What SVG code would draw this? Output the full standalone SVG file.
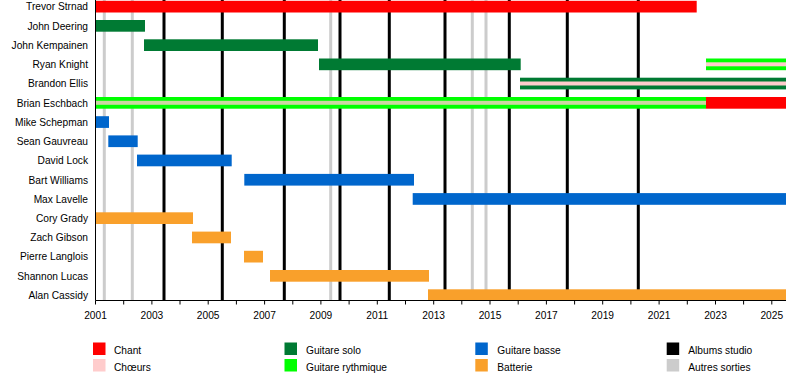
<svg xmlns="http://www.w3.org/2000/svg" width="800" height="380" viewBox="0 0 800 380">
<style>
text{font-family:"Liberation Sans",Arial,sans-serif;font-size:10.2px;fill:#000}
.name{text-anchor:end}
.yr{text-anchor:middle}
.red{fill:#FF0000}.pink{fill:#FFCCCC}.dg{fill:#007A33}.lg{fill:#00FF00}.blue{fill:#0066CC}.org{fill:#F9A02B}.blk{fill:#000}.gry{fill:#CCCCCC}
.alb{stroke:#000;stroke-width:3}
.oth{stroke:#CCCCCC;stroke-width:3}
</style>
<rect width="800" height="380" fill="#fff"/>
<g id="releases">
<g class="oth">
<line x1="104.3" y1="0" x2="104.3" y2="300"/>
<line x1="132.3" y1="0" x2="132.3" y2="300"/>
<line x1="330.7" y1="0" x2="330.7" y2="300"/>
<line x1="472.3" y1="0" x2="472.3" y2="300"/>
<line x1="486" y1="0" x2="486" y2="300"/>
</g>
<g class="alb">
<line x1="164" y1="0" x2="164" y2="300"/>
<line x1="222.3" y1="0" x2="222.3" y2="300"/>
<line x1="284.3" y1="0" x2="284.3" y2="300"/>
<line x1="340" y1="0" x2="340" y2="300"/>
<line x1="389.3" y1="0" x2="389.3" y2="300"/>
<line x1="445" y1="0" x2="445" y2="300"/>
<line x1="509.3" y1="0" x2="509.3" y2="300"/>
<line x1="567.3" y1="0" x2="567.3" y2="300"/>
<line x1="638.3" y1="0" x2="638.3" y2="300"/>
</g>
</g>
<g id="trevor-strnad"><text class="name" x="88" y="10.4">Trevor Strnad</text><rect class="red" x="95.5" y="0.8" width="601.2" height="11.7"/></g>
<g id="john-deering"><text class="name" x="88" y="29.6">John Deering</text><rect class="dg" x="95.5" y="20" width="49.5" height="11.7"/></g>
<g id="john-kempainen"><text class="name" x="88" y="48.9">John Kempainen</text><rect class="dg" x="144" y="39.3" width="174" height="11.7"/></g>
<g id="ryan-knight"><text class="name" x="88" y="68.1">Ryan Knight</text><rect class="dg" x="319" y="58.5" width="201.7" height="11.7"/><rect class="lg" x="706" y="58.5" width="80" height="11.7"/><rect class="pink" x="706" y="62.3" width="80" height="4"/></g>
<g id="brandon-ellis"><text class="name" x="88" y="87.3">Brandon Ellis</text><rect class="dg" x="520" y="77.7" width="266" height="11.7"/><rect class="pink" x="520" y="81.5" width="266" height="4"/></g>
<g id="brian-eschbach"><text class="name" x="88" y="106.6">Brian Eschbach</text><rect class="lg" x="95.5" y="97" width="610.5" height="11.7"/><rect class="pink" x="95.5" y="100.8" width="610.5" height="4" opacity="0.8"/><rect class="red" x="706" y="97" width="80" height="11.7"/></g>
<g id="mike-schepman"><text class="name" x="88" y="125.8">Mike Schepman</text><rect class="blue" x="95.5" y="116.2" width="13.5" height="11.7"/></g>
<g id="sean-gauvreau"><text class="name" x="88" y="145">Sean Gauvreau</text><rect class="blue" x="108.3" y="135.4" width="29.4" height="11.7"/></g>
<g id="david-lock"><text class="name" x="88" y="164.2">David Lock</text><rect class="blue" x="137" y="154.6" width="94.7" height="11.7"/></g>
<g id="bart-williams"><text class="name" x="88" y="183.5">Bart Williams</text><rect class="blue" x="244.3" y="173.9" width="169.7" height="11.7"/></g>
<g id="max-lavelle"><text class="name" x="88" y="202.7">Max Lavelle</text><rect class="blue" x="412.7" y="193.1" width="373.3" height="11.7"/></g>
<g id="cory-grady"><text class="name" x="88" y="221.9">Cory Grady</text><rect class="org" x="95.5" y="212.3" width="97.5" height="11.7"/></g>
<g id="zach-gibson"><text class="name" x="88" y="241.2">Zach Gibson</text><rect class="org" x="192" y="231.6" width="39" height="11.7"/></g>
<g id="pierre-langlois"><text class="name" x="88" y="260.4">Pierre Langlois</text><rect class="org" x="244" y="250.8" width="19" height="11.7"/></g>
<g id="shannon-lucas"><text class="name" x="88" y="279.6">Shannon Lucas</text><rect class="org" x="270" y="270" width="159" height="11.7"/></g>
<g id="alan-cassidy"><text class="name" x="88" y="298.9">Alan Cassidy</text><rect class="org" x="428" y="289.3" width="358" height="11.7"/></g>
<g id="axis">
<path d="M95.5 0V300.5H786" fill="none" stroke="#000" stroke-width="1"/>
<path d="M95.5 300.5v4M123.7 300.5v4M151.9 300.5v4M180 300.5v4M208.2 300.5v4M236.4 300.5v4M264.6 300.5v4M292.8 300.5v4M320.9 300.5v4M349.1 300.5v4M377.3 300.5v4M405.5 300.5v4M433.7 300.5v4M461.8 300.5v4M490 300.5v4M518.2 300.5v4M546.4 300.5v4M574.6 300.5v4M602.7 300.5v4M630.9 300.5v4M659.1 300.5v4M687.3 300.5v4M715.5 300.5v4M743.6 300.5v4M771.8 300.5v4" stroke="#000" stroke-width="1"/>
<text class="yr" x="95.5" y="319">2001</text>
<text class="yr" x="151.9" y="319">2003</text>
<text class="yr" x="208.2" y="319">2005</text>
<text class="yr" x="264.6" y="319">2007</text>
<text class="yr" x="320.9" y="319">2009</text>
<text class="yr" x="377.3" y="319">2011</text>
<text class="yr" x="433.7" y="319">2013</text>
<text class="yr" x="490" y="319">2015</text>
<text class="yr" x="546.4" y="319">2017</text>
<text class="yr" x="602.7" y="319">2019</text>
<text class="yr" x="659.1" y="319">2021</text>
<text class="yr" x="715.5" y="319">2023</text>
<text class="yr" x="771.8" y="319">2025</text>
</g>
<g id="legend">
<rect class="red" x="93" y="342.5" width="12.5" height="12.5"/><text x="114" y="354">Chant</text>
<rect class="pink" x="93" y="359" width="12.5" height="12.5"/><text x="114" y="370.5">Chœurs</text>
<rect class="dg" x="284.5" y="342.5" width="12.5" height="12.5"/><text x="306" y="354">Guitare solo</text>
<rect class="lg" x="284.5" y="359" width="12.5" height="12.5"/><text x="306" y="370.5">Guitare rythmique</text>
<rect class="blue" x="475.3" y="342.5" width="12.5" height="12.5"/><text x="497.3" y="354">Guitare basse</text>
<rect class="org" x="475.3" y="359" width="12.5" height="12.5"/><text x="497.3" y="370.5">Batterie</text>
<rect class="blk" x="666.7" y="342.5" width="12.5" height="12.5"/><text x="688.3" y="354">Albums studio</text>
<rect class="gry" x="666.7" y="359" width="12.5" height="12.5"/><text x="688.3" y="370.5">Autres sorties</text>
</g>
</svg>
